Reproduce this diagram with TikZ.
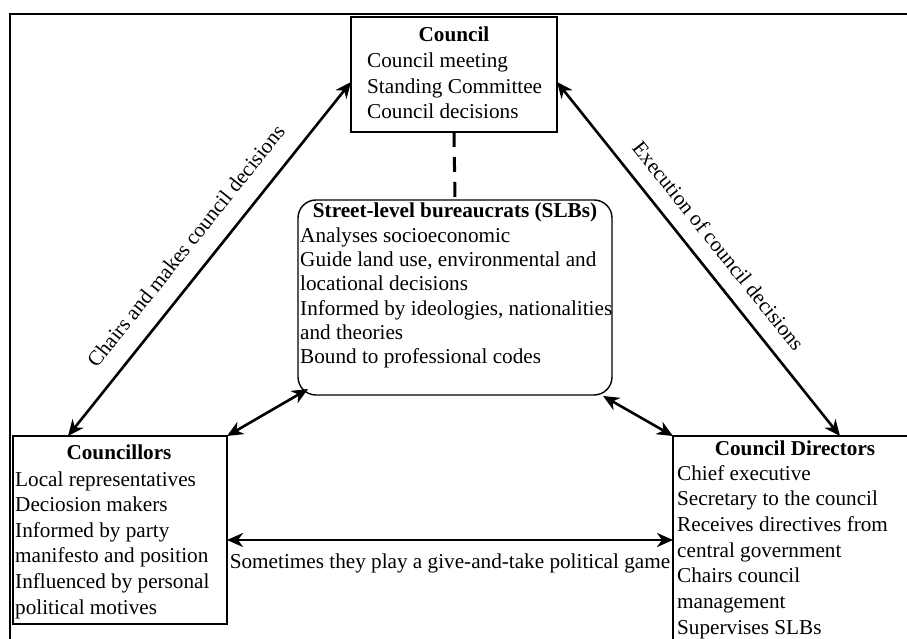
\documentclass[tikz,border=0pt]{standalone}
\usepackage{fontspec}
\setmainfont{Liberation Serif}
\usetikzlibrary{arrows.meta,calc}

\begin{document}
\begin{tikzpicture}[x=1pt,y=-1pt,
  font=\fontsize{21.2}{25.5}\selectfont,
  box/.style={draw, line width=2.6pt, inner sep=0pt, outer sep=0pt},
  softbox/.style={draw, line width=1.4pt, rounded corners=18pt, inner sep=0pt, outer sep=0pt},
  heading/.style={inner sep=0pt, anchor=base, font=\fontsize{21.2}{25.5}\selectfont\bfseries},
  body/.style={inner sep=0pt, anchor=base west},
  tip/.tip={Stealth[length=16pt,width=14pt,inset=5pt]},
  link/.style={line width=2.6pt, tip-tip},
  tag/.style={inner sep=0pt, sloped}
]
\useasboundingbox (0,0) rectangle (907,639);
\clip (0,0) rectangle (907,639);

% outer frame
\draw[line width=2pt] (10,14) rectangle (1000,700);

% boxes
\node[box, minimum width=206pt, minimum height=115pt] (council) at (454,74.5) {};
\node[softbox, minimum width=314pt, minimum height=195pt] (slb) at (455,297.5) {};
\node[box, minimum width=214pt, minimum height=188pt] (cllr) at (120,530) {};
\node[box, minimum width=244pt, minimum height=218pt] (dir) at (795,545) {};

% Council
\node[heading] (council-t) at (454,42) {Council};
\node[body] (council-b) at (367,68) {\begin{tabular}[t]{@{}l@{}}Council meeting\\Standing Committee\\Council decisions\end{tabular}};

% Street-level bureaucrats
\node[heading] (slb-t) at (455,218) {Street-level bureaucrats (SLBs)};
\node[body, font=\fontsize{21.2}{24.2}\selectfont] (slb-b) at (300,242.5) {\begin{tabular}[t]{@{}l@{}}Analyses socioeconomic\\Guide land use, environmental and\\locational decisions\\Informed by ideologies, nationalities\\and theories\\Bound to professional codes\end{tabular}};

% Councillors
\node[heading] (cllr-t) at (119,459) {Councillors};
\node[body, font=\fontsize{21.2}{25.6}\selectfont] (cllr-b) at (15,486) {\begin{tabular}[t]{@{}l@{}}Local representatives\\Deciosion makers\\Informed by party\\manifesto and position\\Influenced by personal\\political motives\end{tabular}};

% Council Directors
\node[heading] (dir-t) at (795,455) {Council Directors};
\node[body, font=\fontsize{21.2}{25.7}\selectfont] (dir-b) at (677,480) {\begin{tabular}[t]{@{}l@{}}Chief executive\\Secretary to the council\\Receives directives from\\central government\\Chairs council\\management\\Supervises SLBs\end{tabular}};

% connector end points on the box borders
\coordinate (cllr-up) at ($(cllr.north west)+(55,0)$);
\coordinate (council-l) at ($(council.north west)+(0,65)$);
\coordinate (council-r) at ($(council.north east)+(0,65)$);
\coordinate (dir-up) at ($(dir.north west)+(167,0)$);
\coordinate (slb-bl) at ($(slb.south west)+(10,-6)$);
\coordinate (slb-br) at ($(slb.south east)+(-9,1)$);
\coordinate (cllr-r) at ($(cllr.north east)+(0,104)$);
\coordinate (dir-l) at ($(dir.north west)+(0,104)$);

% connectors
\draw[link] (cllr-up) -- node[tag, above=18pt, pos=0.49] (lbl-chairs) {Chairs and makes council decisions} (council-l);
\draw[link] (council-r) -- node[tag, above=15pt, pos=0.505] (lbl-exec) {Execution of council decisions} (dir-up);
\draw[line width=3pt, dash pattern=on 15pt off 10pt] (council.south) -- (slb.north);
\draw[link] (cllr.north east) -- (slb-bl);
\draw[link] (slb-br) -- (dir.north west);
\draw[link] (cllr-r) -- node[below=12pt, inner sep=0pt] (lbl-game) {Sometimes they play a give-and-take political game} (dir-l);
\end{tikzpicture}
\end{document}
